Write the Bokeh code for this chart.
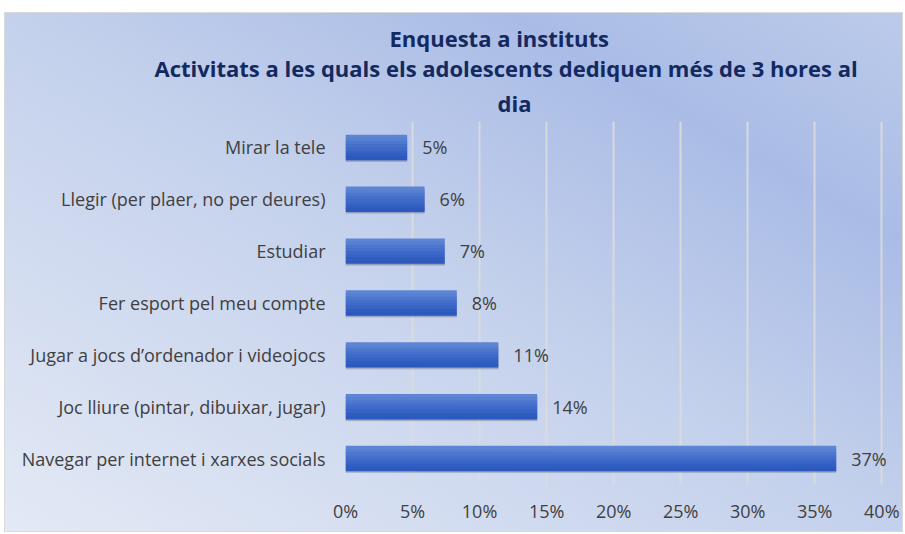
from bokeh.plotting import figure
from bokeh.models import FactorRange, Range1d, Title, NumeralTickFormatter, FixedTicker, ColumnDataSource
from bokeh.transform import dodge
from bokeh.core.properties import value
from bokeh.embed import file_html
from bokeh.resources import INLINE

categories = [
    "Mirar la tele",
    "Llegir (per plaer, no per deures)",
    "Estudiar",
    "Fer esport pel meu compte",
    "Jugar a jocs d\u2019ordenador i videojocs",
    "Joc lliure (pintar, dibuixar, jugar)",
    "Navegar per internet i xarxes socials",
]
values = [0.046, 0.059, 0.074, 0.083, 0.114, 0.143, 0.366]
value_labels = ["5%", "6%", "7%", "8%", "11%", "14%", "37%"]
x_ticks = [0.0, 0.05, 0.10, 0.15, 0.20, 0.25, 0.30, 0.35, 0.40]
title_lines = [
    "Enquesta a instituts",
    "Activitats a les quals els adolescents dediquen m\u00e9s de 3 hores al",
    "dia",
]

FONT = "Open Sans"
src = ColumnDataSource(dict(cat=categories, val=values, lab=value_labels))

x_end = 0.4065
p = figure(
    y_range=FactorRange(*categories[::-1]),
    x_range=Range1d(0, x_end),
    frame_width=545, frame_height=363,
    min_border_left=340, min_border_right=12, min_border_top=108, min_border_bottom=47,
    output_backend="svg", toolbar_location=None,
)
p.margin = (12, 0, 0, 4)
p.background_fill_alpha = 0
p.border_fill_alpha = 0
p.outline_line_color = None
p.styles = {
    "background": "linear-gradient(to top right, #e3e9f5 0%, #c4d1ec 50%, #aabce6 78%, #bccbea 100%)",
    "border": "1px solid #d9d9d9",
}

# shadow
p.hbar(y=dodge("cat", -0.06, range=p.y_range), right="val", left=0, height=0.44, source=src,
       fill_color="#1a2a55", fill_alpha=0.18, line_color=None)
p.hbar(y=dodge("cat", -0.035, range=p.y_range), right="val", left=0, height=0.46, source=src,
       fill_color="#1a2a55", fill_alpha=0.15, line_color=None)

# gradient bars (strips)
strip_cols = ["#5e84d3", "#5680d1", "#4d77ce", "#456fcb", "#3e69c8", "#3763c4", "#305dc0", "#2c59bd"]
bh = 0.48
n = len(strip_cols)
for i, c in enumerate(strip_cols):
    off = bh / 2 - (i + 0.5) * bh / n
    p.hbar(y=dodge("cat", off, range=p.y_range), right="val", left=0, height=bh / n + 0.01,
           source=src, fill_color=c, line_color=None)

p.text(x="val", y="cat", text="lab", source=src, x_offset=15, text_align="left",
       text_baseline="middle", text_font=value(FONT), text_font_size="18px", text_color="#404040")

p.xaxis.ticker = FixedTicker(ticks=x_ticks)
p.xaxis.formatter = NumeralTickFormatter(format="0%")
for ax in (p.xaxis[0], p.yaxis[0]):
    ax.axis_line_color = None
    ax.major_tick_line_color = None
    ax.minor_tick_line_color = None
    ax.major_label_text_font = FONT
    ax.major_label_text_font_size = "18px"
    ax.major_label_text_color = "#404040"
p.xaxis.major_label_standoff = 8
p.yaxis.major_label_standoff = 14

p.xgrid.ticker = FixedTicker(ticks=x_ticks)
p.xgrid.grid_line_color = "#dcdcdc"
p.xgrid.grid_line_width = 2
p.xgrid.grid_line_alpha = 0.9
p.ygrid.grid_line_color = None

offsets = [44, -191, 152]
standoffs = [0, -3, 8]
for t, off, so in list(zip(title_lines, offsets, standoffs))[::-1]:
    p.add_layout(Title(text=t, align="left", offset=off, standoff=so,
                       text_font=FONT, text_font_size="22px", text_font_style="bold",
                       text_color="#13295f"), "above")

open("out.html", "w").write(file_html(p, INLINE))
